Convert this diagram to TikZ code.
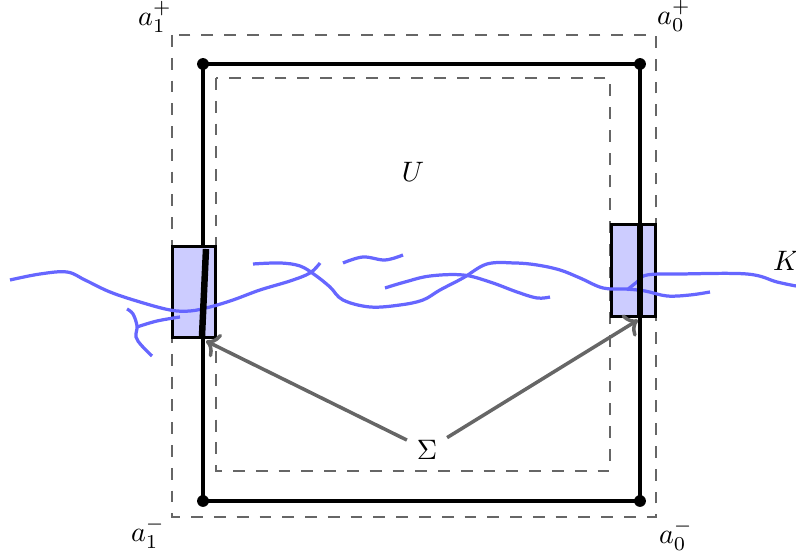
\documentclass[tikz,border=0pt]{standalone}
\usetikzlibrary{arrows.meta, positioning}

\begin{document}
\begin{tikzpicture}[
    x=0.0125cm, y=-0.0125cm,
    guide/.style={draw=black!60, line width=0.8pt, dash pattern=on 4.2pt off 3.9pt},
    side/.style={draw, line width=1.1pt},
    vertex/.style={circle, fill, inner sep=0pt, minimum size=4.2pt},
    slab/.style={rectangle, draw, line width=1.1pt, fill=blue!20, inner sep=0pt, minimum width=0.54cm},
    seam/.style={line width=2.3pt},
    strand/.style={blue!60, line width=1.15pt},
    arrow/.style={->, draw=black!60, line width=1.25pt},
    lab/.style={inner sep=1pt}
]
\useasboundingbox (0,0) rectangle (796,554);

% Dashed frames
\draw[guide] (172,35) rectangle (656,517);
\draw[guide] (216,78) rectangle (610,471);

% Corners
\node[vertex] (tl) at (203,64) {};
\node[vertex] (tr) at (640,64) {};
\node[vertex] (br) at (640,501) {};
\node[vertex] (bl) at (203,501) {};
\draw[side] (tl.center) -- (tr.center) -- (br.center) -- (bl.center) -- cycle;

% Boxes
\node[slab, minimum height=1.13cm] (lbox) at (194,292) {};
\node[slab, minimum height=1.16cm] (rbox) at (633.5,270.5) {};

% Curves
\draw[strand] plot[smooth, tension=0.6] coordinates {(10,280) (40,274) (67,272) (85,280) (110,292) (140,302) (170,310) (190,311) (210,307) (233,300) (260,290) (290,281) (310,273) (320,263)};
\draw[strand] plot[smooth, tension=0.6] coordinates {(253,264) (280,263) (300,266) (315,275) (330,287) (343,300) (370,307) (400,305) (423,300) (440,290) (463,278) (487,264) (515,263) (537,265) (560,270) (580,278) (603,288) (625,289) (645,291) (667,296) (690,295) (710,292)};
\draw[strand] plot[smooth, tension=0.6] coordinates {(343,263) (363,257) (385,260) (403,255)};
\draw[strand] plot[smooth, tension=0.6] coordinates {(385,288) (405,282) (430,276) (463,275) (490,282) (517,292) (537,298) (550,297)};
\draw[strand] plot[smooth, tension=0.6] coordinates {(627,290) (637,282) (647,275) (680,274) (747,274) (777,282) (796,286)};
\draw[strand] plot[smooth, tension=0.6] coordinates {(127,309) (133,314) (137,326) (136,337) (142,346) (152,356)};
\draw[strand] plot[smooth, tension=0.6] coordinates {(137,327) (157,321) (180,317)};

% Seams
\draw[seam] (202,336) -- (206,249);
\draw[seam] (640,224) -- (640,317);

% Labels
\node[lab] (a1p) at (155,17) {$a_1^+$};
\node[lab] (a0p) at (674,16) {$a_0^+$};
\node[lab] (a1m) at (148,533) {$a_1^-$};
\node[lab] (a0m) at (676,535) {$a_0^-$};
\node (U) at (413,172) {$U$};
\node (K) at (786,261) {$K$};
\node (sigma) at (427,450) {$\Sigma$};

% Arrows
\coordinate (lfoot) at (206,341);
\coordinate (rfoot) at (638,320);
\draw[arrow] (sigma) -- (lfoot);
\draw[arrow] (sigma) -- (rfoot);

\end{tikzpicture}
\end{document}
